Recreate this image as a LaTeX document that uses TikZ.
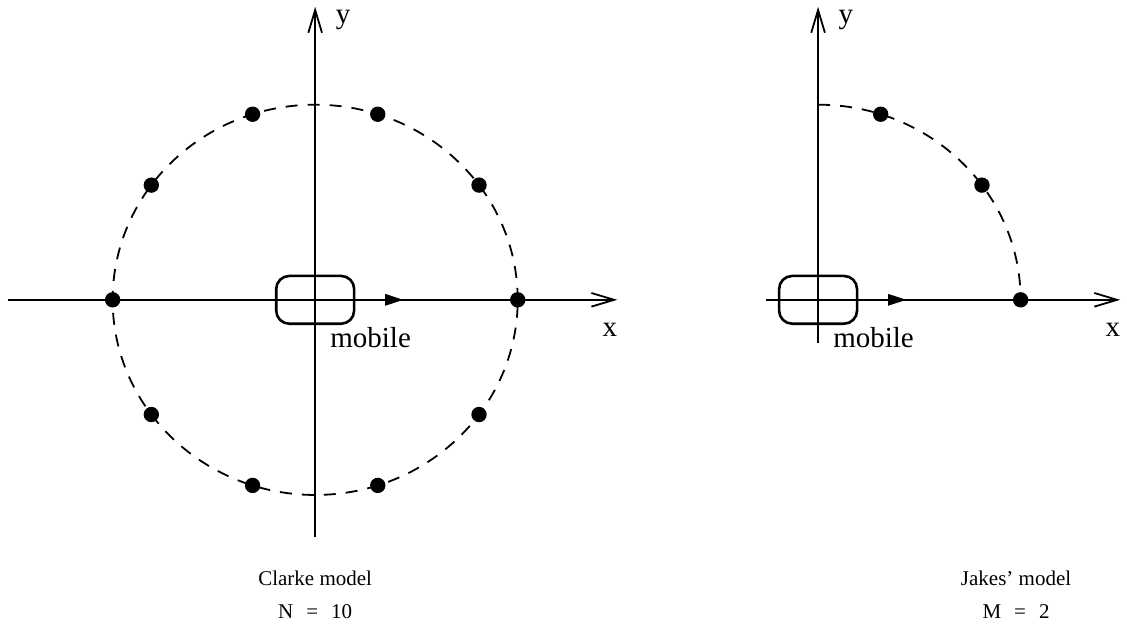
\documentclass[tikz,border=0pt]{standalone}
\usepackage{fontspec}
\setmainfont{Liberation Serif}
\usetikzlibrary{arrows.meta,positioning,calc}
\tikzset{
  axis/.style={line width=0.9pt,-{Straight Barb[length=4mm,width=2.4mm]}},
  ring/.style={dash pattern=on 6pt off 5pt,line width=0.9pt},
  scat/.style={circle,fill=black,inner sep=0pt,minimum size=0.27cm},
  mob/.style={draw,line width=1.3pt,rounded corners=0.23cm,minimum width=1.37cm,minimum height=0.84cm,inner sep=0pt},
  lbl/.style={font=\fontsize{14.5}{17}\selectfont,inner sep=0pt},
  captext/.style={font=\fontsize{10.5}{16.5}\selectfont,align=center}
}
\newcommand{\eqsp}{\hspace{6.5pt}=\hspace{6.5pt}}

\begin{document}
\begin{tikzpicture}
\useasboundingbox (-5.54,-5.83) rectangle (14.27,5.27);
% Clarke model, N = 10
\coordinate (o1) at (0,0);
\draw[axis] (0,-4.17) -- (0,5.15);
\draw[axis] (-5.40,0) -- (5.31,0);
\draw[ring] (o1) ellipse [x radius=3.56,y radius=3.43];
\foreach \a in {0,36,...,324}
  \node[scat] (c\a) at (\a:3.56 and 3.43) {};
\draw[line width=0.9pt,-{Triangle[length=3.2mm,width=2mm]}] (o1) -- (1.55,0);
\node[mob] (m1) at (o1) {};
\node[lbl,anchor=base west] (mob1) at (0.26,-0.83) {mobile};
\node[lbl] (x1) at (5.18,-0.53) {x};
\node[lbl] (y1) at (0.49,4.92) {y};
\node[captext] (cap1) at (0,-5.19) {Clarke model\\N\eqsp10};
% Jakes' model, M = 2
\begin{scope}[xshift=8.84cm]
\coordinate (o2) at (0,0);
\draw[axis] (0,-0.76) -- (0,5.15);
\draw[axis] (-0.91,0) -- (5.31,0);
\draw[ring] (0,3.43) arc[start angle=90,end angle=0,x radius=3.56,y radius=3.43];
\foreach \a in {0,36,72}
  \node[scat] (j\a) at (\a:3.56 and 3.43) {};
\draw[line width=0.9pt,-{Triangle[length=3.2mm,width=2mm]}] (o2) -- (1.55,0);
\node[mob] (m2) at (o2) {};
\node[lbl,anchor=base west] (mob2) at (0.26,-0.83) {mobile};
\node[lbl] (x2) at (5.18,-0.53) {x};
\node[lbl] (y2) at (0.49,4.92) {y};
\node[captext] (cap2) at (3.48,-5.19) {Jakes' model\\M\eqsp2};
\end{scope}
\end{tikzpicture}
\end{document}
